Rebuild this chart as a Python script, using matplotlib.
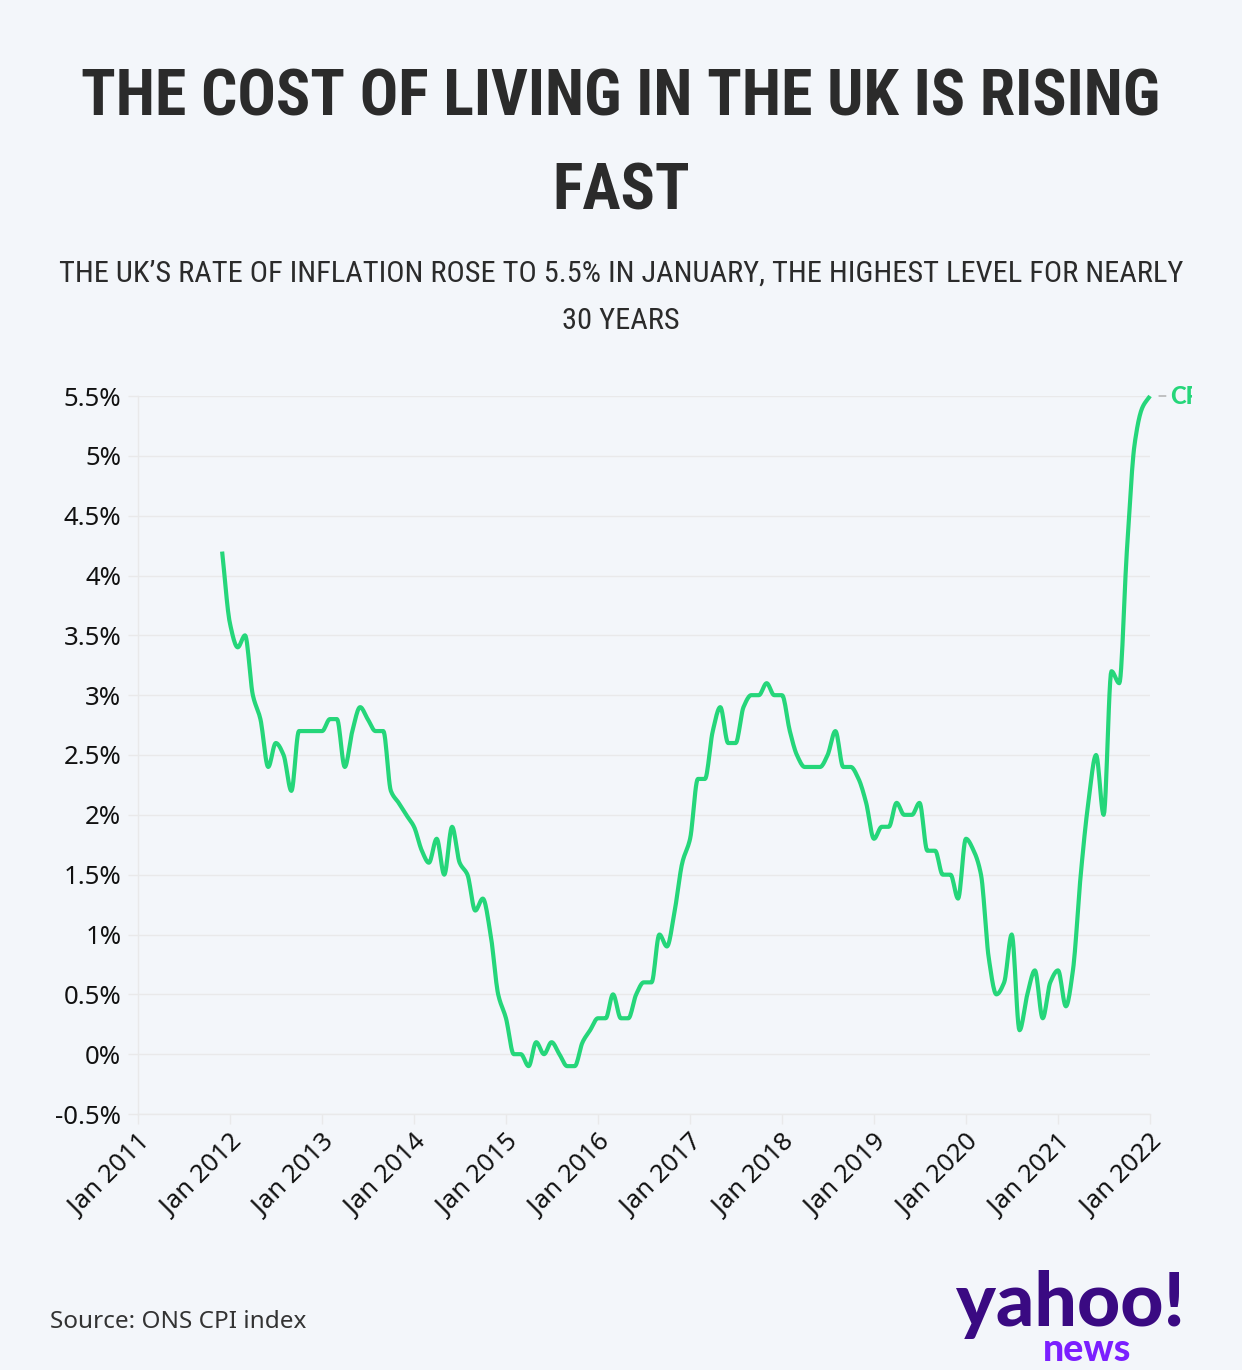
import numpy as np
import pandas as pd
import matplotlib
matplotlib.use("Agg")
import matplotlib.pyplot as plt
import matplotlib.dates as mdates
from matplotlib import font_manager
from matplotlib.transforms import Bbox, TransformedBbox

# ---------------- data ----------------
start_month = "2011-12-01"
cpi_values = [
    4.2,
    3.6, 3.4, 3.5, 3.0, 2.8, 2.4, 2.6, 2.5, 2.2, 2.7, 2.7, 2.7,   # 2012
    2.7, 2.8, 2.8, 2.4, 2.7, 2.9, 2.8, 2.7, 2.7, 2.2, 2.1, 2.0,   # 2013
    1.9, 1.7, 1.6, 1.8, 1.5, 1.9, 1.6, 1.5, 1.2, 1.3, 1.0, 0.5,   # 2014
    0.3, 0.0, 0.0, -0.1, 0.1, 0.0, 0.1, 0.0, -0.1, -0.1, 0.1, 0.2,  # 2015
    0.3, 0.3, 0.5, 0.3, 0.3, 0.5, 0.6, 0.6, 1.0, 0.9, 1.2, 1.6,   # 2016
    1.8, 2.3, 2.3, 2.7, 2.9, 2.6, 2.6, 2.9, 3.0, 3.0, 3.1, 3.0,   # 2017
    3.0, 2.7, 2.5, 2.4, 2.4, 2.4, 2.5, 2.7, 2.4, 2.4, 2.3, 2.1,   # 2018
    1.8, 1.9, 1.9, 2.1, 2.0, 2.0, 2.1, 1.7, 1.7, 1.5, 1.5, 1.3,   # 2019
    1.8, 1.7, 1.5, 0.8, 0.5, 0.6, 1.0, 0.2, 0.5, 0.7, 0.3, 0.6,   # 2020
    0.7, 0.4, 0.7, 1.5, 2.1, 2.5, 2.0, 3.2, 3.1, 4.2, 5.1, 5.4,   # 2021
    5.5,                                                          # 2022
]
series_name = "CPI"
y_ticks = [-0.5, 0, 0.5, 1, 1.5, 2, 2.5, 3, 3.5, 4, 4.5, 5, 5.5]
x_tick_years = list(range(2011, 2023))

title_lines = ["THE COST OF LIVING IN THE UK IS RISING", "FAST"]
subtitle_lines = ["THE UK\u2019S RATE OF INFLATION ROSE TO 5.5% IN JANUARY, THE HIGHEST LEVEL FOR NEARLY",
                  "30 YEARS"]
source = "Source: ONS CPI index"

# ---------------- styling ----------------
BG = "#f3f6fa"
GREEN = "#25d67a"
GRID = "#e9e9ea"
TEXT = "#2b2b2b"

installed = {f.name for f in font_manager.fontManager.ttflist}
def pick(*names):
    for n in names:
        if n in installed:
            return n
    return "DejaVu Sans"

cond_font = pick("Roboto Condensed", "Liberation Sans Narrow", "DejaVu Sans Condensed", "Liberation Sans")
body_font = pick("Noto Sans", "Open Sans", "DejaVu Sans")
logo_font = pick("Lato", "Inter", "Roboto", "DejaVu Sans")
label_font = pick("Lato", "Open Sans", "Roboto", "DejaVu Sans")

plt.rcParams["font.family"] = [body_font, "DejaVu Sans"]

W, H = 1242, 1370
fig = plt.figure(figsize=(W / 100, H / 100), dpi=100, facecolor=BG)

left_px, right_px, top_px, bot_px = 138, 1150, 396, 1114
ax = fig.add_axes([left_px / W, 1 - bot_px / H, (right_px - left_px) / W, (bot_px - top_px) / H])
ax.set_facecolor(BG)

dates = pd.date_range(start_month, periods=len(cpi_values), freq="MS")
xnum = mdates.date2num(dates)
y = np.array(cpi_values, dtype=float)

# monotone cubic (Fritsch-Carlson) rendering of the line, like d3 curveMonotoneX
def monotone_curve(x, y, n=12):
    x = np.asarray(x, float); y = np.asarray(y, float)
    h = np.diff(x); d = np.diff(y) / h
    m = np.zeros_like(y)
    m[0] = d[0]; m[-1] = d[-1]
    for i in range(1, len(y) - 1):
        if d[i - 1] * d[i] <= 0:
            m[i] = 0.0
        else:
            w1 = 2 * h[i] + h[i - 1]; w2 = h[i] + 2 * h[i - 1]
            m[i] = (w1 + w2) / (w1 / d[i - 1] + w2 / d[i])
    xs, ys = [], []
    for i in range(len(x) - 1):
        t = np.linspace(0, 1, n, endpoint=False)
        h00 = 2 * t**3 - 3 * t**2 + 1; h10 = t**3 - 2 * t**2 + t
        h01 = -2 * t**3 + 3 * t**2; h11 = t**3 - t**2
        xs.append(x[i] + t * h[i])
        ys.append(h00 * y[i] + h10 * h[i] * m[i] + h01 * y[i + 1] + h11 * h[i] * m[i + 1])
    xs.append([x[-1]]); ys.append([y[-1]])
    return np.concatenate(xs), np.concatenate(ys)

cx, cy = monotone_curve(xnum, y)
ax.plot(cx, cy, color=GREEN, lw=3.0, solid_capstyle="butt", solid_joinstyle="round", zorder=3, clip_on=False)

xmin = mdates.date2num(pd.Timestamp("2011-01-01"))
xmax = mdates.date2num(pd.Timestamp("2022-01-01"))
ax.set_xlim(xmin, xmax)
ax.set_ylim(-0.5, 5.5)

ax.set_yticks(y_ticks)
ax.set_yticklabels([f"{v:g}%" for v in y_ticks])
ax.set_xticks([mdates.date2num(pd.Timestamp(f"{yr}-01-01")) for yr in x_tick_years])
ax.set_xticklabels([f"Jan {yr}" for yr in x_tick_years], rotation=45, ha="right", rotation_mode="anchor")

ax.grid(axis="y", color=GRID, lw=1.0)
ax.grid(axis="x", visible=False)
for s in ["top", "right"]:
    ax.spines[s].set_visible(False)
for s in ["left", "bottom"]:
    ax.spines[s].set_color(GRID)
    ax.spines[s].set_linewidth(1.0)
ax.tick_params(axis="y", length=7, width=1.0, color=GRID, labelsize=18.5, labelcolor="#111111", pad=5)
ax.tick_params(axis="x", length=7, width=1.0, color=GRID, labelsize=18.5, labelcolor="#111111", pad=5)

# series label at the end of the line (clipped at the right, as in the original)
ann = ax.annotate(series_name, xy=(xnum[-1], y[-1]), xytext=(20, 0), textcoords="offset pixels",
                  color=GREEN, fontsize=17, fontweight="black", va="center", ha="left",
                  family=[label_font, "DejaVu Sans"],
                  arrowprops=dict(arrowstyle="-", color="#aaaaaa", lw=1.0, shrinkA=1, shrinkB=6.5),
                  annotation_clip=False)
clipbox = TransformedBbox(Bbox([[0, 0], [1192 / W, 1]]), fig.transFigure)
ann.set_clip_box(clipbox)
ann.set_clip_on(True)

# titles
fig.text(0.5, 1 - 98 / H, title_lines[0], ha="center", va="center",
         fontsize=46, fontweight="bold", color=TEXT, family=[cond_font, "DejaVu Sans"])
fig.text(0.5, 1 - 192 / H, title_lines[1], ha="center", va="center",
         fontsize=46, fontweight="bold", color=TEXT, family=[cond_font, "DejaVu Sans"])
fig.text(0.5, 1 - 274 / H, subtitle_lines[0], ha="center", va="center",
         fontsize=21.9, color=TEXT, family=[cond_font, "DejaVu Sans"])
fig.text(0.5, 1 - 321 / H, subtitle_lines[1], ha="center", va="center",
         fontsize=21.9, color=TEXT, family=[cond_font, "DejaVu Sans"])

fig.text(50 / W, 1 - 1322 / H, source, ha="left", va="center", fontsize=17.5, color="#333333")

# logo
fig.text(1071 / W, 1 - 1326 / H, "yahoo!", ha="center", va="baseline", fontsize=54, fontweight="black",
         color="#3a0a82", family=[logo_font, "DejaVu Sans"])
fig.text(1087 / W, 1 - 1361 / H, "news", ha="center", va="baseline", fontsize=27, fontweight="black",
         color="#7b1fff", family=[logo_font, "DejaVu Sans"])

fig.savefig("out.png", dpi=100, facecolor=BG)
